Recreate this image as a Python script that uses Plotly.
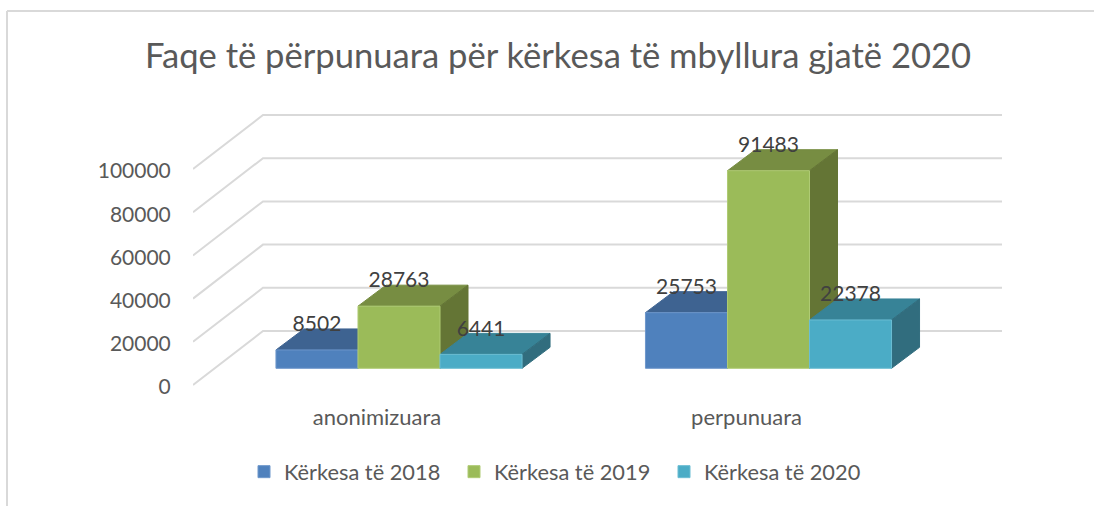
import plotly.graph_objects as go

categories = ["anonimizuara", "perpunuara"]
series_names = ["Kërkesa të 2018", "Kërkesa të 2019", "Kërkesa të 2020"]
values_2018 = [8502, 25753]
values_2019 = [28763, 91483]
values_2020 = [6441, 22378]
y_ticks = [0, 20000, 40000, 60000, 80000, 100000]
title_text = "Faqe të përpunuara për kërkesa të mbyllura gjatë 2020"

series_values = [values_2018, values_2019, values_2020]
front_colors = ["#4F81BD", "#9BBB59", "#4BACC6"]
top_colors = ["#3E6391", "#778D42", "#378397"]
side_colors = ["#335077", "#647535", "#316D7E"]
edge_colors = ["#6E97CB", "#AFCB74", "#6BBDD3"]

W, H = 1094, 506
L, R, T, B = 193, 1002, 100, 397            # plot rectangle in page pixels
CAT_PX = 369.5                               # one category step
VAL_PX = 216 / 100000                        # pixels per unit of value


def x_range(zero_px):
    return [(L - zero_px) / CAT_PX, (R - zero_px) / CAT_PX]


def y_range(zero_px):
    return [(zero_px - B) / VAL_PX, (zero_px - T) / VAL_PX]


BARGAP = 0.334
bar_w = (1 - BARGAP) / 3
depth_x = 28 / CAT_PX
depth_y = 21 / VAL_PX
wall_x = 70 / CAT_PX
wall_y = 54 / VAL_PX
label_lift = 24 / VAL_PX
grid_shift = 2 / VAL_PX                      # tick labels sit 2px below the wall's front edge

fig = go.Figure()

# Back wall grid, on the axes that carry the tick labels
xr_a = x_range(377)
for v in y_ticks:
    fig.add_trace(go.Scatter(
        x=[xr_a[0], xr_a[0] + wall_x, xr_a[1]],
        y=[v + grid_shift, v + grid_shift + wall_y, v + grid_shift + wall_y],
        mode="lines", line=dict(color="#D9D9D9", width=2),
        showlegend=False, hoverinfo="skip", xaxis="x", yaxis="y"))

# Top and side faces of every box
for s, vals in enumerate(series_values):
    for c, v in enumerate(vals):
        x0 = c - 1.5 * bar_w + s * bar_w
        x1 = x0 + bar_w
        fig.add_trace(go.Scatter(
            x=[x0, x1, x1 + depth_x, x0 + depth_x, x0],
            y=[v, v, v + depth_y, v + depth_y, v],
            mode="lines", fill="toself", fillcolor=top_colors[s],
            line=dict(color=top_colors[s], width=1),
            showlegend=False, hoverinfo="skip", xaxis="x2", yaxis="y2"))
        fig.add_trace(go.Scatter(
            x=[x1, x1 + depth_x, x1 + depth_x, x1, x1],
            y=[0, depth_y, v + depth_y, v, 0],
            mode="lines", fill="toself", fillcolor=side_colors[s],
            line=dict(color=side_colors[s], width=1),
            showlegend=False, hoverinfo="skip", xaxis="x2", yaxis="y2"))

# Front faces
for s, vals in enumerate(series_values):
    fig.add_trace(go.Bar(
        x=[0, 1], y=vals, name=series_names[s],
        marker=dict(color=front_colors[s], line=dict(color=edge_colors[s], width=1)),
        xaxis="x3", yaxis="y3"))

# Data labels
for s, vals in enumerate(series_values):
    fig.add_trace(go.Scatter(
        x=[c - bar_w + s * bar_w for c in range(len(vals))],
        y=[v + label_lift for v in vals],
        mode="text", text=[str(v) for v in vals], textposition="middle center",
        textfont=dict(family="Lato", size=21, color="#404040"),
        showlegend=False, hoverinfo="skip", xaxis="x3", yaxis="y3"))

hidden = dict(visible=False, fixedrange=True)
fig.update_layout(
    width=W, height=H,
    margin=dict(l=L, r=W - R, t=T, b=H - B),
    paper_bgcolor="white", plot_bgcolor="rgba(0,0,0,0)",
    barmode="group", bargap=BARGAP, bargroupgap=0,
    font=dict(family="Lato", color="#595959", size=20),
    title=dict(text=title_text, x=558 / W, xanchor="center", y=1 - 56 / H, yanchor="middle",
               font=dict(family="Lato", size=34.6, color="#595959")),
    xaxis=dict(range=xr_a, tickvals=[0, 1], ticktext=categories, showgrid=False,
               zeroline=False, showline=False, ticks="outside", ticklen=1,
               tickcolor="rgba(0,0,0,0)", tickfont=dict(size=22), fixedrange=True),
    yaxis=dict(range=y_range(385 + 2), tickvals=y_ticks, showgrid=False, zeroline=False,
               showline=False, ticks="outside", ticklen=17, tickcolor="rgba(0,0,0,0)",
               tickformat="d", tickfont=dict(size=21), fixedrange=True),
    xaxis2=dict(range=x_range(399), overlaying="x", anchor="y2", **hidden),
    yaxis2=dict(range=y_range(368.3), overlaying="y", anchor="x2", **hidden),
    xaxis3=dict(range=x_range(399), overlaying="x", anchor="y3", **hidden),
    yaxis3=dict(range=y_range(368.3), overlaying="y", anchor="x3", **hidden),
    legend=dict(orientation="h", xref="container", yref="container",
                x=244 / W, xanchor="left", y=1 - 472 / H, yanchor="middle",
                entrywidthmode="pixels", entrywidth=165, itemclick=False,
                itemdoubleclick=False, font=dict(family="Lato", size=21.8, color="#595959")),
    shapes=[
        dict(type="line", xref="paper", yref="paper", layer="below",
             x0=(7 - L) / (R - L), x1=(7 - L) / (R - L),
             y0=(B - H) / (B - T), y1=(B - 11) / (B - T),
             line=dict(color="#D9D9D9", width=2)),
        dict(type="line", xref="paper", yref="paper", layer="below",
             x0=(7 - L) / (R - L), x1=(W - L) / (R - L),
             y0=(B - 11) / (B - T), y1=(B - 11) / (B - T),
             line=dict(color="#D9D9D9", width=2)),
    ],
)

fig.write_html("out.html", config={"displayModeBar": False},
               post_script="document.body.style.margin='0';document.body.style.overflow='hidden';")
